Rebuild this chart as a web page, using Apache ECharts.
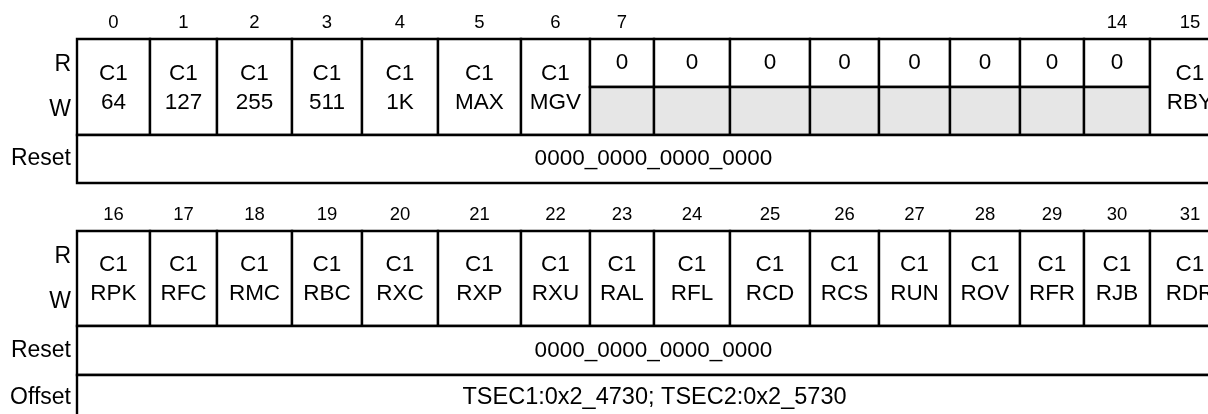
<!DOCTYPE html>
<html>
<head>
<meta charset="utf-8">
<script src="https://cdn.jsdelivr.net/npm/echarts@6/dist/echarts.min.js"></script>
<style>html,body{margin:0;padding:0;background:#fff}#chart{width:1208px;height:414px}</style>
</head>
<body>
<div id="chart"></div>
<script>
// ---- data ----
const rowLabels = ['R', 'W', 'Reset', 'Offset'];
const bitLabelsTop = ['0','1','2','3','4','5','6','7','','','','','','','14','15'];
const bitLabelsBottom = ['16','17','18','19','20','21','22','23','24','25','26','27','28','29','30','31'];
const fieldPrefix = 'C1';
const fieldNamesTop = ['64','127','255','511','1K','MAX','MGV','','','','','','','','','RBY'];
const reservedTop = [0,0,0,0,0,0,0,1,1,1,1,1,1,1,1,0];
const reservedReadValue = '0';
const fieldNamesBottom = ['RPK','RFC','RMC','RBC','RXC','RXP','RXU','RAL','RFL','RCD','RCS','RUN','ROV','RFR','RJB','RDR'];
const resetValues = ['0000_0000_0000_0000', '0000_0000_0000_0000'];
const offsetText = 'TSEC1:0x2_4730; TSEC2:0x2_5730';

// ---- layout (pixels) ----
const COL_EDGES = [77,150,217,292,362,438,521,590,654,730,810,879,950,1020,1084,1150,1230];
const SECTIONS = [
  { numY: 23, top: 39, split: 87, bottom: 135, resetBottom: 183 },
  { numY: 215, top: 231, split: null, bottom: 326, resetBottom: 375, offsetBottom: 423 }
];
const FONT = "'Liberation Sans', Arial, Helvetica, sans-serif";
const LABEL_X = 71;
const GRAY = '#e6e6e6';
const CELL_FS = 22.5, LABEL_FS = 23, NUM_FS = 18.5, OFFSET_FS = 23.5;

const cells = [];
const texts = [];
function sectionBuild(s, idx, bitLabels, names, reserved) {
  const x0 = COL_EDGES[0], xN = COL_EDGES[COL_EDGES.length - 1];
  for (let i = 0; i < 16; i++) {
    const a = COL_EDGES[i], b = COL_EDGES[i + 1], cx = (a + b) / 2;
    if (bitLabels[i] !== '') texts.push({ x: cx, y: s.numY, t: bitLabels[i], size: NUM_FS, align: 'center' });
    if (reserved && reserved[i]) {
      cells.push({ x0: a, x1: b, y0: s.top, y1: s.split, fill: '#fff' });
      cells.push({ x0: a, x1: b, y0: s.split, y1: s.bottom, fill: GRAY });
      texts.push({ x: cx, y: (s.top + s.split) / 2, t: reservedReadValue, size: CELL_FS, align: 'center' });
    } else {
      cells.push({ x0: a, x1: b, y0: s.top, y1: s.bottom, fill: '#fff' });
      texts.push({ x: cx, y: (s.top + s.bottom) / 2 + 1, t: fieldPrefix + '\n' + names[i], size: CELL_FS, align: 'center', lh: 29 });
    }
  }
  texts.push({ x: LABEL_X, y: s.top + 26, t: rowLabels[0], size: LABEL_FS, align: 'right' });
  texts.push({ x: LABEL_X, y: s.top + 71, t: rowLabels[1], size: LABEL_FS, align: 'right' });
  cells.push({ x0: x0, x1: xN, y0: s.bottom, y1: s.resetBottom, fill: '#fff' });
  texts.push({ x: (x0 + xN) / 2, y: (s.bottom + s.resetBottom) / 2, t: resetValues[idx], size: CELL_FS, align: 'center' });
  texts.push({ x: LABEL_X, y: (s.bottom + s.resetBottom) / 2, t: rowLabels[2], size: LABEL_FS, align: 'right' });
  if (s.offsetBottom) {
    cells.push({ x0: x0, x1: xN, y0: s.resetBottom, y1: s.offsetBottom, fill: '#fff' });
    texts.push({ x: (x0 + xN) / 2 + 1, y: (s.resetBottom + s.offsetBottom) / 2 - 1, t: offsetText, size: OFFSET_FS, align: 'center' });
    texts.push({ x: LABEL_X, y: (s.resetBottom + s.offsetBottom) / 2 - 1, t: rowLabels[3], size: LABEL_FS, align: 'right' });
  }
}
sectionBuild(SECTIONS[0], 0, bitLabelsTop, fieldNamesTop, reservedTop);
sectionBuild(SECTIONS[1], 1, bitLabelsBottom, fieldNamesBottom, null);

const chart = echarts.init(document.getElementById('chart'), null, { renderer: 'canvas' });
chart.setOption({
  animation: false,
  backgroundColor: '#fff',
  grid: { left: 0, right: 0, top: 0, bottom: 0 },
  xAxis: { type: 'value', min: 0, max: 1208, show: false },
  yAxis: { type: 'value', min: 0, max: 414, inverse: true, show: false },
  series: [
    {
      type: 'custom',
      clip: false,
      data: cells.map((c, i) => [c.x0, c.y0, i]),
      renderItem: function (params, api) {
        const c = cells[params.dataIndex];
        const p0 = api.coord([c.x0, c.y0]);
        const p1 = api.coord([c.x1, c.y1]);
        return {
          type: 'rect',
          shape: { x: p0[0], y: p0[1], width: p1[0] - p0[0], height: p1[1] - p0[1] },
          style: { fill: c.fill, stroke: '#000', lineWidth: 2.4 }
        };
      }
    },
    {
      type: 'custom',
      clip: false,
      z: 5,
      data: texts.map((t, i) => [t.x, t.y, i]),
      renderItem: function (params, api) {
        const t = texts[params.dataIndex];
        const p = api.coord([t.x, t.y]);
        return {
          type: 'text',
          x: p[0], y: p[1],
          style: {
            text: t.t, fill: '#000', font: t.size + 'px ' + FONT,
            align: t.align, verticalAlign: 'middle', lineHeight: t.lh || t.size
          }
        };
      }
    }
  ]
});
</script>
</body>
</html>
